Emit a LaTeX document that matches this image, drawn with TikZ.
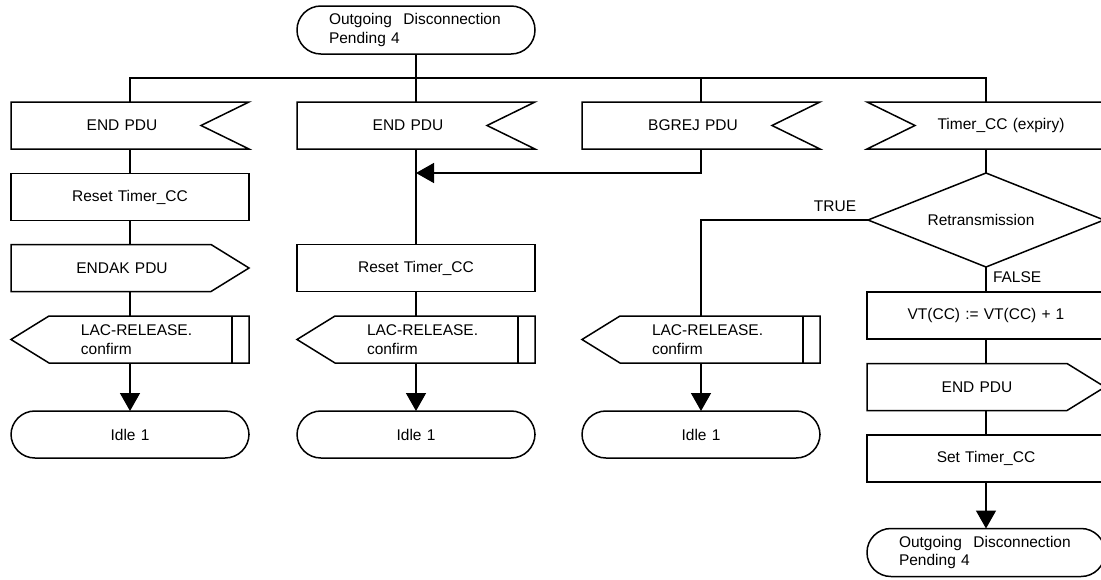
\documentclass[tikz,border=0pt]{standalone}
\usepackage{fontspec}
\setmainfont{Liberation Sans}
\usetikzlibrary{arrows.meta,calc}
\begin{document}
\begin{tikzpicture}[x=1pt,y=-1pt, line width=1.5pt, line join=miter,
  every node/.style={font=\fontsize{15.5}{18.5}\selectfont, inner sep=0pt, outer sep=0pt},
  blk/.style={minimum width=238pt, minimum height=47pt, text width=238pt, align=center},
  rectbox/.style={blk, draw},
  termbox/.style={blk, minimum height=48pt, align=left},
  arr/.style={-{Triangle[length=18pt,width=20pt]}}]
\useasboundingbox (0,0) rectangle (1101,579);
\clip (0,0) rectangle (1101,579);

% nodes
\node[termbox] (top) at (416,30) {\hspace*{32pt}Outgoing\hspace{11.5pt}Disconnection\\\hspace*{32pt}Pending 4};
\node[blk] (in1) at (130,125.5) {END PDU\hspace{16pt}\mbox{}};
\node[blk] (in2) at (416,125.5) {END PDU\hspace{16pt}\mbox{}};
\node[blk] (in3) at (701,125.5) {BGREJ PDU\hspace{16pt}\mbox{}};
\node[blk] (in4) at (986,125.5) {\mbox{}\hspace{30pt}Timer\_CC (expiry)};
\node[rectbox] (rst1) at (130,197) {Reset Timer\_CC};
\node[blk, minimum width=236pt, text width=236pt, minimum height=94pt] (dia) at (986,220) {Retransmission\hspace{10pt}\mbox{}};
\node[blk] (endak) at (130,268) {ENDAK PDU\hspace{16pt}\mbox{}};
\node[rectbox] (rst2) at (416,268) {Reset Timer\_CC};
\node[blk, align=left] (lac1) at (130,339.5) {\hspace*{70pt}LAC-RELEASE.\\\hspace*{70pt}confirm};
\node[blk, align=left] (lac2) at (416,339.5) {\hspace*{70pt}LAC-RELEASE.\\\hspace*{70pt}confirm};
\node[blk, align=left] (lac3) at (701,339.5) {\hspace*{70pt}LAC-RELEASE.\\\hspace*{70pt}confirm};
\node[blk] (idle1) at (130,434.5) {Idle 1};
\node[blk] (idle2) at (416,434.5) {Idle 1};
\node[blk] (idle3) at (701,434.5) {Idle 1};
\node[rectbox] (vt) at (986,315.5) {VT(CC) := VT(CC) + 1};
\node[blk] (endpdu) at (986,387) {END PDU\hspace{18pt}\mbox{}};
\node[rectbox] (set) at (986,458.5) {Set Timer\_CC};
\node[termbox] (bot) at (986,552.5) {\hspace*{32pt}Outgoing\hspace{11.5pt}Disconnection\\\hspace*{32pt}Pending 4};
\node (true) at (835,206.5) {TRUE};
\node[anchor=west] (false) at (993,277.5) {FALSE};

% outlines: input signals
\foreach \n in {in1,in2,in3}
  \draw (\n.north west) -- (\n.north east) -- ([xshift=-48pt]\n.east) -- (\n.south east) -- (\n.south west) -- cycle;
% timer input
\draw (in4.north east) -- (in4.north west) -- ([xshift=48pt]in4.west) -- (in4.south west) -- (in4.south east) -- cycle;
% decision
\draw (dia.north) -- (dia.east) -- (dia.south) -- (dia.west) -- cycle;
% output signals
\foreach \n in {endak,endpdu}
  \draw (\n.north west) -- ([xshift=-38pt]\n.north east) -- (\n.east) -- ([xshift=-38pt]\n.south east) -- (\n.south west) -- cycle;
% LAC outputs
\foreach \n in {lac1,lac2,lac3}{
  \draw (\n.west) -- ([xshift=38pt]\n.north west) -- (\n.north east) -- (\n.south east) -- ([xshift=38pt]\n.south west) -- cycle;
  \draw ([xshift=-17pt]\n.north east) -- ([xshift=-17pt]\n.south east);
}
% terminals
\foreach \n in {top,idle1,idle2,idle3,bot}
  \draw[rounded corners=23.9pt] (\n.north west) rectangle (\n.south east);

% connectors
\coordinate (bus) at (0,78);
\coordinate (merge) at (416,173);
\draw (top.south) -- (in2.north);
\draw (in1.north) |- (in4.north |- bus) -- (in4.north);
\draw (in3.north) -- (in3.north |- bus);
\draw (in1.south) -- (rst1.north);
\draw (rst1.south) -- (endak.north);
\draw (endak.south) -- (lac1.north);
\draw[arr] (lac1.south) -- (idle1.north);
\draw (in2.south) -- (rst2.north);
\draw[arr] (in3.south) |- (merge);
\draw (rst2.south) -- (lac2.north);
\draw[arr] (lac2.south) -- (idle2.north);
\draw (dia.west) -| (lac3.north);
\draw[arr] (lac3.south) -- (idle3.north);
\draw (in4.south) -- (dia.north);
\draw (dia.south) -- (vt.north);
\draw (vt.south) -- (endpdu.north);
\draw (endpdu.south) -- (set.north);
\draw[arr] (set.south) -- (bot.north);
\end{tikzpicture}
\end{document}
